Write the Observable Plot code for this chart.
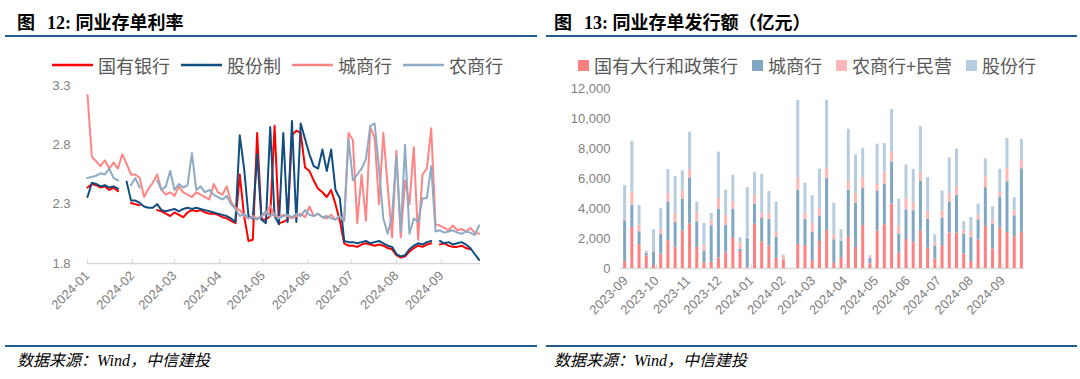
<!DOCTYPE html>
<html><head><meta charset="utf-8">
<script src="https://cdn.jsdelivr.net/npm/d3@7"></script>
<script src="https://cdn.jsdelivr.net/npm/@observablehq/plot@0.6"></script>
<style>
html,body{margin:0;padding:0;background:#fff;}
body{width:1080px;height:379px;overflow:hidden;position:relative;font-family:"Noto Sans CJK SC",sans-serif;}
.title{position:absolute;top:13px;font-weight:bold;font-size:18px;line-height:20px;font-family:"Liberation Serif","Noto Sans CJK SC",serif;color:#000;white-space:nowrap;}
.title .fig{margin-right:12px;}
.rule{position:absolute;height:2px;background:#215d8c;}
.src{position:absolute;top:352px;font-style:italic;font-size:16px;line-height:18px;font-family:"Liberation Serif","Noto Sans CJK SC",serif;color:#000;white-space:nowrap;}
.legend{position:absolute;top:53px;height:24px;display:flex;align-items:center;font-size:18px;color:#595959;white-space:nowrap;font-family:"Noto Sans CJK SC",sans-serif;}
.legend .item{display:flex;align-items:center;}
.panel{position:absolute;top:75px;}
.panel svg{overflow:visible;}
</style></head>
<body>
<div class="title" style="left:17px"><span class="fig">图</span>12: 同业存单利率</div>
<div class="title" style="left:554px"><span class="fig">图</span>13: 同业存单发行额（亿元）</div>
<div class="rule" style="left:5px;width:532px;top:35px"></div>
<div class="rule" style="left:546px;width:531px;top:35px"></div>
<div class="legend" id="legL" style="left:52px;gap:11px"></div>
<div class="legend" id="legR" style="left:578px;gap:14px"></div>
<div class="panel" id="left" style="left:0px"></div>
<div class="panel" id="right" style="left:540px"></div>
<div class="rule" style="left:5px;width:532px;top:345px"></div>
<div class="rule" style="left:546px;width:531px;top:345px"></div>
<div class="src" style="left:17px">数据来源：Wind，中信建投</div>
<div class="src" style="left:554px">数据来源：Wind，中信建投</div>
<script>
// ---------- Figure 12: NCD rates (%) ----------
const rateSeries = ["国有银行", "股份制", "城商行", "农商行"];
const rateColors = ["#ff0000", "#114e80", "#ff8585", "#8dabc5"];
const rateDates = [
  "01-01","01-04","01-07","01-10","01-13","01-16","01-19","01-22","01-25","01-28",
  "01-31","02-03","02-06","02-09","02-12","02-15","02-18","02-21","02-24","02-27",
  "03-01","03-04","03-07","03-10","03-13","03-16","03-19","03-22","03-25","03-28",
  "03-31","04-03","04-06","04-09","04-12","04-15","04-18","04-21","04-24","04-27",
  "04-30","05-03","05-06","05-09","05-12","05-15","05-18","05-21","05-24","05-27",
  "05-30","06-02","06-05","06-08","06-11","06-14","06-17","06-20","06-23","06-26",
  "06-29","07-02","07-05","07-08","07-11","07-14","07-17","07-20","07-23","07-26",
  "07-29","08-01","08-04","08-07","08-10","08-13","08-16","08-19","08-22","08-25",
  "08-28","08-31","09-03","09-06","09-09","09-12","09-15","09-18","09-21","09-24",
  "09-27"
];
const rateGuoyou = [
  2.44,2.47,2.46,2.44,2.45,2.42,2.44,2.41,null,null,
  2.31,2.30,2.29,null,null,null,2.25,2.24,2.22,2.20,
  2.23,2.21,2.19,2.23,2.25,2.24,2.25,2.23,2.22,2.22,
  2.21,2.19,2.18,2.16,2.14,2.55,2.20,1.99,2.00,2.90,
  2.17,2.17,2.20,2.96,2.14,2.15,2.17,2.88,2.92,2.90,
  2.61,2.58,2.50,2.43,2.40,2.36,2.42,2.30,2.16,1.97,
  1.95,1.95,1.94,1.96,1.97,1.96,1.95,1.96,1.95,1.93,
  1.92,1.87,1.85,1.86,1.90,1.93,1.95,1.94,1.96,1.97,
  null,1.96,1.97,1.95,1.94,1.94,1.95,1.93,1.92,null,
  null
];
const rateGufen = [
  2.36,2.48,2.47,2.45,2.46,2.44,2.45,2.43,null,2.49,
  2.33,2.33,2.31,2.28,2.27,2.27,2.30,2.25,2.24,2.25,
  2.26,2.24,2.26,2.27,2.26,2.27,2.26,2.25,2.24,2.23,
  2.22,2.21,2.20,2.18,2.15,2.88,2.60,2.20,2.18,2.72,
  2.17,2.14,2.95,2.20,2.13,2.90,2.15,3.00,2.15,2.98,
  2.85,2.72,2.62,2.60,2.76,2.58,2.76,2.42,2.35,1.99,
  1.98,1.98,1.97,1.98,1.99,1.97,1.98,1.99,1.97,1.95,
  1.94,1.88,1.86,1.87,1.92,1.95,1.97,1.96,1.98,1.99,
  null,1.99,1.97,1.98,1.96,1.97,1.98,1.96,1.93,1.88,
  1.83
];
const rateChengshang = [
  3.22,2.70,2.66,2.62,2.67,2.60,2.65,2.60,2.72,2.64,
  2.55,2.55,2.52,2.36,2.43,2.48,2.55,2.42,2.38,2.40,
  2.37,2.45,2.40,2.38,2.36,2.40,2.38,2.36,2.34,2.47,
  2.40,2.38,2.45,2.32,2.27,2.25,2.20,2.18,2.20,2.18,
  2.20,2.22,2.29,2.20,2.19,2.21,2.20,2.18,2.20,2.22,
  2.19,2.28,2.20,2.22,2.19,2.18,2.21,2.17,2.20,2.16,
  2.90,2.84,2.14,2.55,2.16,2.95,2.86,2.30,2.90,2.45,
  2.02,2.75,2.02,2.50,2.30,2.78,2.00,2.55,2.60,2.94,
  2.13,2.12,2.10,2.08,2.12,2.08,2.09,2.07,2.10,2.06,
  2.05
];
const rateNongshang = [
  2.52,2.53,2.54,2.56,2.55,2.60,2.52,2.50,null,null,
  2.46,2.52,2.44,null,null,null,2.50,2.42,2.45,2.58,
  2.42,2.47,2.44,2.46,2.73,2.42,2.45,2.40,2.42,2.38,
  2.36,2.34,2.37,2.30,2.26,2.20,2.22,2.18,2.19,2.17,
  2.20,2.24,2.20,2.22,2.18,2.20,2.21,2.19,2.22,2.20,
  2.25,2.21,2.20,2.22,2.19,2.20,2.18,2.17,2.20,2.16,
  2.85,2.50,2.55,2.60,2.68,2.96,2.98,2.60,2.18,2.05,
  2.20,2.70,2.07,2.80,2.05,2.18,2.15,2.35,2.35,2.62,
  2.07,2.08,2.06,2.07,2.08,2.06,2.05,2.07,2.06,2.04,
  2.12
];
const rateYTicks = [1.8, 2.3, 2.8, 3.3];
const rateMonthTicks = ["2024-01-01","2024-02-01","2024-03-01","2024-04-01","2024-05-01","2024-06-01","2024-07-01","2024-08-01","2024-09-01"];

// ---------- Figure 13: NCD issuance (100m yuan) ----------
const issueSeries = ["国有大行和政策行", "城商行", "农商行+民营", "股份行"];
const issueColors = ["#ff8080", "#80a7c3", "#ffb6b6", "#b7cddf"];
const issueDates = [
  "2023-08-31","2023-09-07","2023-09-14","2023-09-21","2023-09-28","2023-10-05","2023-10-12","2023-10-19","2023-10-26","2023-11-02",
  "2023-11-09","2023-11-16","2023-11-23","2023-11-30","2023-12-07","2023-12-14","2023-12-21","2023-12-28","2024-01-04","2024-01-11",
  "2024-01-18","2024-01-25","2024-02-01","2024-02-08","2024-02-15","2024-02-22","2024-02-29","2024-03-07","2024-03-14","2024-03-21",
  "2024-03-28","2024-04-04","2024-04-11","2024-04-18","2024-04-25","2024-05-02","2024-05-09","2024-05-16","2024-05-23","2024-05-30",
  "2024-06-06","2024-06-13","2024-06-20","2024-06-27","2024-07-04","2024-07-11","2024-07-18","2024-07-25","2024-08-01","2024-08-08",
  "2024-08-15","2024-08-22","2024-08-29","2024-09-05","2024-09-12","2024-09-19"
];
const issueGuoyou = [
  460,2720,1590,840,200,950,1860,1440,2500,2980,
  1410,380,420,690,1040,2010,1130,50,2960,1770,
  1500,690,550,0,1600,1530,530,1800,2540,360,
  700,2080,1410,2860,310,2500,2920,4300,1020,1940,
  1720,2500,1350,640,1520,2360,2360,970,460,1900,
  2810,1300,2700,2410,2120,2410
];
const issueChengshang = [
  2720,1500,860,160,900,1330,2580,1630,2140,3050,
  1710,750,2430,3270,1830,1950,150,1940,1330,1570,
  1770,1390,30,0,3610,1730,1890,1660,3480,1560,
  1130,3150,2930,2490,350,2660,2690,2800,1280,1970,
  2130,3300,1940,840,1840,2040,2520,1330,1620,1350,
  2580,1660,2070,3380,1390,4240
];
const issueNongshang = [
  90,880,450,40,30,310,560,600,530,580,
  590,440,380,700,710,480,400,50,590,330,
  400,350,250,0,840,430,590,560,680,330,
  80,570,670,700,120,460,820,680,510,750,
  550,600,510,220,490,620,580,260,400,310,
  710,270,330,880,340,550
];
const issueGufen = [
  2250,3390,1300,110,1450,1390,1590,2470,1330,2470,
  710,1430,440,3100,1640,1770,380,3340,1510,2610,
  1460,1990,80,0,5150,2000,1840,2600,4520,2110,
  670,3480,2560,1950,70,2670,1900,2820,1810,2240,
  2210,3050,2260,550,1320,2360,2500,560,920,730,
  1210,880,1510,1990,880,1400
];
const issueYTicks = [0, 2000, 4000, 6000, 8000, 10000, 12000];
const issueMonthTicks = ["2023-09-01","2023-10-01","2023-11-01","2023-12-01","2024-01-01","2024-02-01","2024-03-01","2024-04-01","2024-05-01","2024-06-01","2024-07-01","2024-08-01","2024-09-01"];

// ---------- build ----------
const P = d3.utcParse("%Y-%m-%d");
const fmtMonth = d3.utcFormat("%Y-%m");
const axisFont = '"Liberation Sans", Arial, sans-serif';
const gridGray = "#d9d9d9";
const labelGray = "#7f7f7f";

const rateValues = [rateGuoyou, rateGufen, rateChengshang, rateNongshang];
const rateRows = rateSeries.flatMap((s, i) => rateDates.map((d, j) => ({date: P("2024-" + d), value: rateValues[i][j], series: s})));

const left = Plot.plot({
  width: 540, height: 270,
  marginLeft: 87, marginRight: 60, marginTop: 10, marginBottom: 82,
  style: {fontFamily: axisFont, fontSize: "13px", background: "transparent", overflow: "visible"},
  x: {type: "utc", domain: [P("2024-01-01"), P("2024-09-28")]},
  y: {domain: [1.8, 3.3]},
  color: {domain: rateSeries, range: rateColors},
  marks: [
    Plot.axisY({ticks: rateYTicks, tickFormat: d3.format(".1f"), tickSize: 0, tickPadding: 17, label: null, fill: labelGray, fontSize: 13}),
    Plot.ruleY([1.8], {stroke: gridGray, strokeWidth: 1.5}),
    Plot.axisX({ticks: rateMonthTicks.map(P), tickFormat: fmtMonth, tickRotate: -45, tickSize: -4, tickPadding: 14, label: null, stroke: gridGray, fill: labelGray, fontSize: 13}),
    Plot.line(rateRows, {x: "date", y: "value", z: "series", stroke: "series", strokeWidth: 2})
  ]
});
document.getElementById("left").appendChild(left);

const issueValues = [issueGuoyou, issueChengshang, issueNongshang, issueGufen];
const issueRows = issueSeries.flatMap((s, i) => issueDates.map((d, j) => ({date: P(d), value: issueValues[i][j], series: s})));

const right = Plot.plot({
  width: 540, height: 270,
  marginLeft: 80, marginRight: 56, marginTop: 13, marginBottom: 77,
  style: {fontFamily: axisFont, fontSize: "13px", background: "transparent", overflow: "visible"},
  x: {type: "utc", domain: [P("2023-08-27"), P("2024-09-22")]},
  y: {domain: [0, 12000]},
  color: {domain: issueSeries, range: issueColors},
  marks: [
    Plot.axisY({ticks: issueYTicks, tickFormat: d3.format(","), tickSize: 0, tickPadding: 10, label: null, fill: labelGray, fontSize: 13}),
    Plot.ruleY([0], {stroke: gridGray, strokeWidth: 1.5}),
    Plot.axisX({ticks: issueMonthTicks.map(P), tickFormat: fmtMonth, tickRotate: -45, tickSize: -4, tickPadding: 14, label: null, stroke: gridGray, fill: labelGray, fontSize: 13}),
    Plot.ruleX(issueRows, Plot.stackY({x: "date", y: "value", z: "series", stroke: "series", strokeWidth: 3, order: issueSeries}))
  ]
});
document.getElementById("right").appendChild(right);

// ---------- legends ----------
const legL = document.getElementById("legL");
rateSeries.forEach((s, i) => {
  const it = document.createElement("div");
  it.className = "item";
  it.innerHTML = `<svg width="41" height="6" style="margin-right:5px"><line x1="0" y1="3" x2="41" y2="3" stroke="${rateColors[i]}" stroke-width="2.5"/></svg><span>${s}</span>`;
  legL.appendChild(it);
});
const legR = document.getElementById("legR");
issueSeries.forEach((s, i) => {
  const it = document.createElement("div");
  it.className = "item";
  it.innerHTML = `<span style="display:inline-block;width:11px;height:11px;background:${issueColors[i]};margin-right:5px"></span><span>${s}</span>`;
  legR.appendChild(it);
});
</script>
</body></html>
